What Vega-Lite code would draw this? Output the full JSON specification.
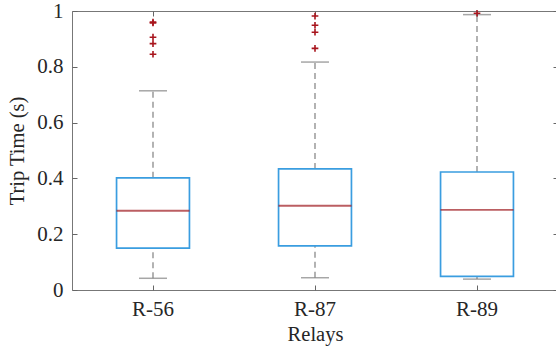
{
  "$schema": "https://vega.github.io/schema/vega-lite/v6.json",
  "autosize": {"type": "none"},
  "padding": {"left": 72, "top": 11, "right": 0, "bottom": 57},
  "width": 486,
  "height": 279,
  "background": "white",
  "config": {
    "view": {"stroke": "#777777", "strokeWidth": 1},
    "font": "Liberation Serif",
    "axis": {
      "domain": false,
      "grid": false,
      "tickColor": "#666666",
      "tickSize": -5,
      "labelFont": "Liberation Serif",
      "labelFontSize": 21,
      "labelColor": "#262626",
      "titleFont": "Liberation Serif",
      "titleFontSize": 20.5,
      "titleFontWeight": "normal",
      "titleColor": "#262626"
    }
  },
  "datasets": {
    "boxes": [
      {"relay": "R-56", "lower": 0.042, "q1": 0.150, "median": 0.284, "q3": 0.402, "upper": 0.714},
      {"relay": "R-87", "lower": 0.044, "q1": 0.158, "median": 0.302, "q3": 0.434, "upper": 0.817},
      {"relay": "R-89", "lower": 0.039, "q1": 0.049, "median": 0.287, "q3": 0.423, "upper": 0.987}
    ],
    "outliers": [
      {"relay": "R-56", "value": 0.960},
      {"relay": "R-56", "value": 0.957},
      {"relay": "R-56", "value": 0.906},
      {"relay": "R-56", "value": 0.883},
      {"relay": "R-56", "value": 0.845},
      {"relay": "R-87", "value": 0.982},
      {"relay": "R-87", "value": 0.949},
      {"relay": "R-87", "value": 0.924},
      {"relay": "R-87", "value": 0.866},
      {"relay": "R-89", "value": 0.992}
    ]
  },
  "resolve": {"axis": {"x": "independent", "y": "independent"}},
  "layer": [
    {
      "data": {"name": "boxes"},
      "mark": {"type": "rule", "color": "#808080", "strokeWidth": 1.2, "strokeDash": [6, 4]},
      "encoding": {
        "x": {"field": "relay", "type": "nominal", "sort": null,
              "scale": {"type": "band", "paddingInner": 0, "paddingOuter": 0},
              "axis": {"orient": "bottom", "title": "Relays", "labelAngle": 0, "labelPadding": 13, "titlePadding": 5}},
        "y": {"field": "lower", "type": "quantitative",
              "scale": {"domain": [0, 1], "nice": false, "zero": true},
              "axis": {"orient": "left", "title": "Trip Time (s)", "values": [0, 0.2, 0.4, 0.6, 0.8, 1], "format": "~g", "labelPadding": 14, "titlePadding": 9}},
        "y2": {"field": "q1"}
      }
    },
    {
      "data": {"name": "boxes"},
      "mark": {"type": "rule", "color": "#808080", "strokeWidth": 1.2, "strokeDash": [6, 4]},
      "encoding": {
        "x": {"field": "relay", "type": "nominal", "sort": null,
              "axis": {"orient": "top", "title": null, "labels": false}},
        "y": {"field": "q3", "type": "quantitative",
              "axis": {"orient": "right", "title": null, "labels": false, "values": [0, 0.2, 0.4, 0.6, 0.8, 1]}},
        "y2": {"field": "upper"}
      }
    },
    {
      "data": {"name": "boxes"},
      "mark": {"type": "tick", "orient": "horizontal", "color": "#808080", "size": 28, "thickness": 1.5},
      "encoding": {
        "x": {"field": "relay", "type": "nominal", "sort": null, "axis": null},
        "y": {"field": "lower", "type": "quantitative", "axis": null}
      }
    },
    {
      "data": {"name": "boxes"},
      "mark": {"type": "tick", "orient": "horizontal", "color": "#808080", "size": 28, "thickness": 1.5},
      "encoding": {
        "x": {"field": "relay", "type": "nominal", "sort": null, "axis": null},
        "y": {"field": "upper", "type": "quantitative", "axis": null}
      }
    },
    {
      "data": {"name": "boxes"},
      "mark": {"type": "bar", "filled": false, "stroke": "#3a9de0", "strokeWidth": 1.7, "width": {"band": 0.45}},
      "encoding": {
        "x": {"field": "relay", "type": "nominal", "sort": null, "axis": null},
        "y": {"field": "q1", "type": "quantitative", "axis": null},
        "y2": {"field": "q3"}
      }
    },
    {
      "data": {"name": "boxes"},
      "mark": {"type": "tick", "orient": "horizontal", "color": "#9e1a1f", "size": 73, "thickness": 1.8},
      "encoding": {
        "x": {"field": "relay", "type": "nominal", "sort": null, "axis": null},
        "y": {"field": "median", "type": "quantitative", "axis": null}
      }
    },
    {
      "data": {"name": "outliers"},
      "mark": {"type": "point", "shape": "M-1,0H1M0,-1V1", "filled": false, "stroke": "#a8151d", "strokeWidth": 1.6, "size": 45, "opacity": 1},
      "encoding": {
        "x": {"field": "relay", "type": "nominal", "sort": null, "axis": null},
        "y": {"field": "value", "type": "quantitative", "axis": null}
      }
    }
  ]
}
